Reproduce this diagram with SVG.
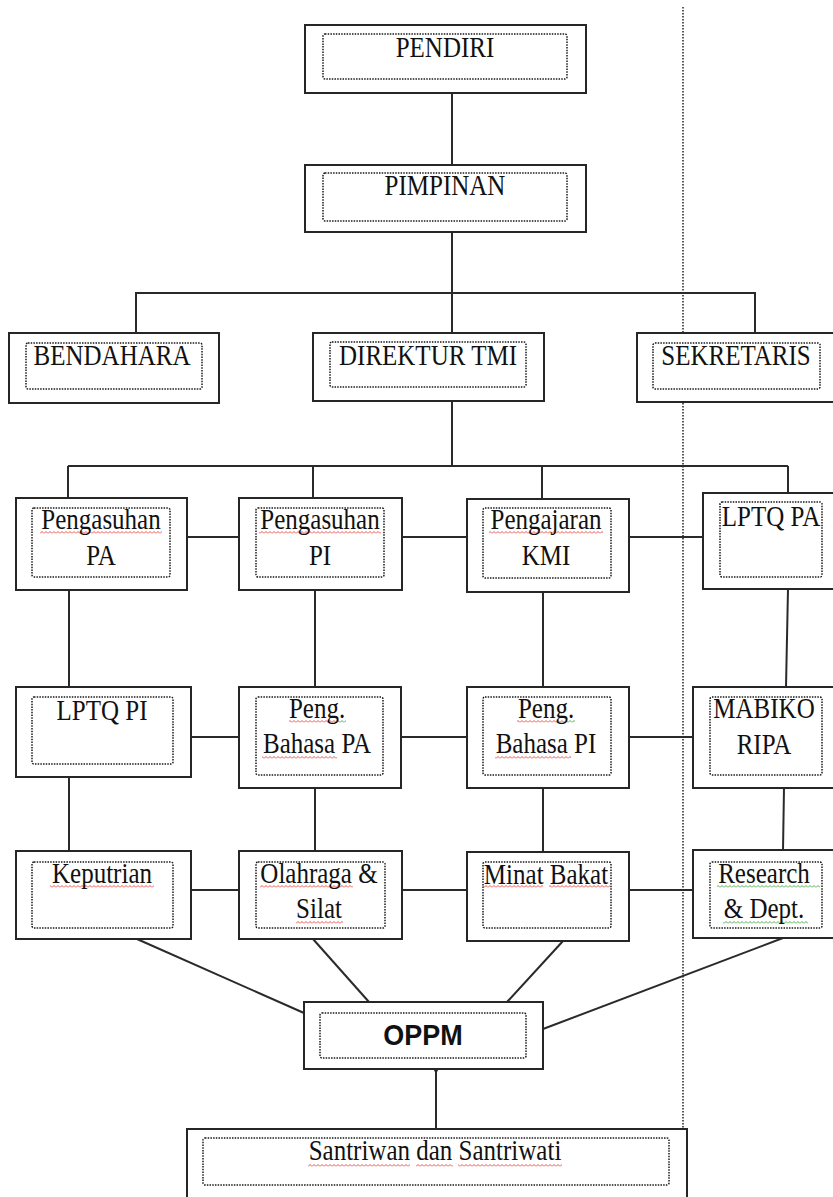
<svg xmlns="http://www.w3.org/2000/svg" width="833" height="1197" viewBox="0 0 833 1197">
<style>
.box{fill:#fff;stroke:#262626;stroke-width:2}
.inner{fill:none;stroke:#1a1a1a;stroke-width:1.5;stroke-dasharray:1.5 1.2}
.t{font-family:"Liberation Serif","Times New Roman",serif;font-size:25px;fill:#111;text-anchor:middle}
.b{font-family:"Liberation Sans",Arial,sans-serif;font-size:27px;font-weight:bold;fill:#111;text-anchor:middle}
.c line,.c polyline{stroke:#2a2a2a;stroke-width:2;fill:none}
.sep{stroke:#222;stroke-width:1.5;stroke-dasharray:1.5 1.5}
.sr{fill:url(#wr)}
.sg{fill:url(#wg)}
</style>
<defs>
<pattern id="wr" width="4" height="3" patternUnits="userSpaceOnUse"><path d="M0 2.5 L2 0.5 L4 2.5" fill="none" stroke="#e8413c" stroke-width="0.9"/></pattern>
<pattern id="wg" width="4" height="3" patternUnits="userSpaceOnUse"><path d="M0 2.5 L2 0.5 L4 2.5" fill="none" stroke="#3fa33f" stroke-width="0.9"/></pattern>
</defs>
<rect width="833" height="1197" fill="#fff"/>

<g id="separator">
<line class="sep" x1="683" y1="7" x2="683" y2="1128"/>
</g>

<g id="connectors" class="c">
<line x1="452" y1="93" x2="452" y2="165"/>
<line x1="452" y1="232" x2="452" y2="333"/>
<polyline points="136,333 136,293 755,293 755,333"/>
<line x1="452" y1="401" x2="452" y2="466"/>
<line x1="68" y1="466" x2="788" y2="466"/>
<line x1="68" y1="466" x2="68" y2="498"/>
<line x1="313" y1="466" x2="313" y2="498"/>
<line x1="542" y1="466" x2="542" y2="499"/>
<line x1="788" y1="466" x2="788" y2="493"/>
<line x1="187" y1="537" x2="239" y2="537"/>
<line x1="402" y1="537" x2="467" y2="537"/>
<line x1="629" y1="537" x2="703" y2="537"/>
<line x1="69" y1="590" x2="69" y2="687"/>
<line x1="315" y1="590" x2="315" y2="687"/>
<line x1="543" y1="592" x2="543" y2="687"/>
<line x1="788" y1="589" x2="786" y2="687"/>
<line x1="191" y1="737" x2="239" y2="737"/>
<line x1="401" y1="737" x2="467" y2="737"/>
<line x1="629" y1="737" x2="693" y2="737"/>
<line x1="69" y1="777" x2="69" y2="851"/>
<line x1="315" y1="788" x2="315" y2="851"/>
<line x1="543" y1="788" x2="543" y2="852"/>
<line x1="784" y1="788" x2="783" y2="850"/>
<line x1="191" y1="890" x2="239" y2="890"/>
<line x1="402" y1="890" x2="467" y2="890"/>
<line x1="629" y1="890" x2="693" y2="890"/>
<line x1="137" y1="939" x2="304" y2="1013"/>
<line x1="313" y1="939" x2="369" y2="1002"/>
<line x1="563" y1="941" x2="507" y2="1002"/>
<line x1="783" y1="938" x2="543" y2="1029"/>
<line x1="436" y1="1069" x2="436" y2="1129"/>
<circle cx="436" cy="1070" r="2" fill="#2a2a2a"/>
</g>

<g id="pendiri">
<rect class="box" x="305" y="25" width="281" height="68"/>
<rect class="inner" x="323" y="34" width="244" height="45" rx="2"/>
<text class="t" transform="translate(445 57) scale(1 1.15)">PENDIRI</text>
</g>
<g id="pimpinan">
<rect class="box" x="305" y="165" width="281" height="67"/>
<rect class="inner" x="323" y="173" width="244" height="48" rx="2"/>
<text class="t" transform="translate(445 195) scale(1 1.15)">PIMPINAN</text>
</g>
<g id="bendahara">
<rect class="box" x="9" y="333" width="210" height="70"/>
<rect class="inner" x="26" y="343" width="176" height="46" rx="2"/>
<text class="t" transform="translate(112 365) scale(1 1.15)">BENDAHARA</text>
</g>
<g id="direktur">
<rect class="box" x="313" y="333" width="231" height="68"/>
<rect class="inner" x="330" y="342" width="196" height="45" rx="2"/>
<text class="t" transform="translate(428 365) scale(1 1.15)">DIREKTUR TMI</text>
</g>
<g id="sekretaris">
<rect class="box" x="637" y="333" width="197" height="69"/>
<rect class="inner" x="653" y="343" width="167" height="46" rx="2"/>
<text class="t" transform="translate(736 365) scale(1 1.15)">SEKRETARIS</text>
</g>

<g id="pengasuhan-pa">
<rect class="box" x="16" y="498" width="171" height="92"/>
<rect class="inner" x="32" y="508" width="138" height="69" rx="2"/>
<rect class="sr" x="40" y="531" width="122" height="3"/>
<text class="t" transform="translate(101 529) scale(1 1.15)">Pengasuhan</text>
<text class="t" transform="translate(101 565) scale(1 1.15)">PA</text>
</g>
<g id="pengasuhan-pi">
<rect class="box" x="239" y="498" width="163" height="92"/>
<rect class="inner" x="256" y="508" width="128" height="69" rx="2"/>
<rect class="sr" x="259" y="531" width="122" height="3"/>
<text class="t" transform="translate(320 529) scale(1 1.15)">Pengasuhan</text>
<text class="t" transform="translate(320 565) scale(1 1.15)">PI</text>
</g>
<g id="pengajaran-kmi">
<rect class="box" x="467" y="499" width="162" height="93"/>
<rect class="inner" x="483" y="508" width="128" height="70" rx="2"/>
<rect class="sr" x="489" y="531" width="114" height="3"/>
<text class="t" transform="translate(546 529) scale(1 1.15)">Pengajaran</text>
<text class="t" transform="translate(546 565) scale(1 1.15)">KMI</text>
</g>
<g id="lptq-pa">
<rect class="box" x="703" y="493" width="131" height="96"/>
<rect class="inner" x="720" y="502" width="102" height="75" rx="2"/>
<text class="t" transform="translate(771 526) scale(1 1.15)">LPTQ PA</text>
</g>

<g id="lptq-pi">
<rect class="box" x="16" y="687" width="175" height="90"/>
<rect class="inner" x="32" y="697" width="141" height="67" rx="2"/>
<text class="t" transform="translate(102 720) scale(1 1.15)">LPTQ PI</text>
</g>
<g id="peng-bahasa-pa">
<rect class="box" x="239" y="687" width="162" height="101"/>
<rect class="inner" x="256" y="697" width="127" height="78" rx="2"/>
<rect class="sr" x="289" y="720" width="50" height="3"/>
<rect class="sg" x="339" y="720" width="7" height="3"/>
<rect class="sr" x="262" y="756" width="75" height="3"/>
<text class="t" transform="translate(317 718) scale(1 1.15)">Peng.</text>
<text class="t" transform="translate(317 753) scale(1 1.15)">Bahasa PA</text>
</g>
<g id="peng-bahasa-pi">
<rect class="box" x="467" y="687" width="162" height="101"/>
<rect class="inner" x="483" y="697" width="128" height="78" rx="2"/>
<rect class="sr" x="517" y="720" width="50" height="3"/>
<rect class="sg" x="567" y="720" width="8" height="3"/>
<rect class="sr" x="495" y="756" width="76" height="3"/>
<text class="t" transform="translate(546 718) scale(1 1.15)">Peng.</text>
<text class="t" transform="translate(546 753) scale(1 1.15)">Bahasa PI</text>
</g>
<g id="mabiko-ripa">
<rect class="box" x="693" y="687" width="141" height="101"/>
<rect class="inner" x="710" y="697" width="112" height="78" rx="2"/>
<text class="t" transform="translate(764 718) scale(1 1.15)">MABIKO</text>
<text class="t" transform="translate(764 754) scale(1 1.15)">RIPA</text>
</g>

<g id="keputrian">
<rect class="box" x="16" y="851" width="175" height="88"/>
<rect class="inner" x="32" y="862" width="141" height="66" rx="2"/>
<rect class="sr" x="50" y="885" width="104" height="3"/>
<text class="t" transform="translate(102 883) scale(1 1.15)">Keputrian</text>
</g>
<g id="olahraga-silat">
<rect class="box" x="239" y="851" width="163" height="88"/>
<rect class="inner" x="256" y="862" width="129" height="66" rx="2"/>
<rect class="sr" x="260" y="885" width="93" height="3"/>
<rect class="sr" x="296" y="921" width="47" height="3"/>
<text class="t" transform="translate(319 883) scale(1 1.15)">Olahraga &amp;</text>
<text class="t" transform="translate(319 918) scale(1 1.15)">Silat</text>
</g>
<g id="minat-bakat">
<rect class="box" x="467" y="852" width="162" height="89"/>
<rect class="inner" x="483" y="862" width="128" height="66" rx="2"/>
<rect class="sr" x="483" y="885" width="60" height="3"/>
<rect class="sr" x="549" y="885" width="61" height="3"/>
<text class="t" transform="translate(546 884) scale(1 1.15)">Minat Bakat</text>
</g>
<g id="research-dept">
<rect class="box" x="693" y="850" width="141" height="88"/>
<rect class="inner" x="710" y="862" width="112" height="66" rx="2"/>
<rect class="sg" x="717" y="885" width="103" height="3"/>
<rect class="sg" x="723" y="921" width="85" height="3"/>
<text class="t" transform="translate(764 883) scale(1 1.15)">Research</text>
<text class="t" transform="translate(764 918) scale(1 1.15)">&amp; Dept.</text>
</g>

<g id="oppm">
<rect class="box" x="304" y="1002" width="239" height="67"/>
<rect class="inner" x="320" y="1013" width="206" height="45" rx="2"/>
<text class="b" transform="translate(423 1045) scale(1 1.1)">OPPM</text>
</g>
<g id="santri">
<rect class="box" x="187" y="1129" width="500" height="70"/>
<rect class="inner" x="203" y="1138" width="466" height="47" rx="2"/>
<rect class="sr" x="308" y="1164" width="102" height="3"/>
<rect class="sr" x="416" y="1164" width="37" height="3"/>
<rect class="sr" x="458" y="1164" width="104" height="3"/>
<text class="t" transform="translate(435 1160) scale(1 1.15)">Santriwan dan Santriwati</text>
</g>
</svg>
